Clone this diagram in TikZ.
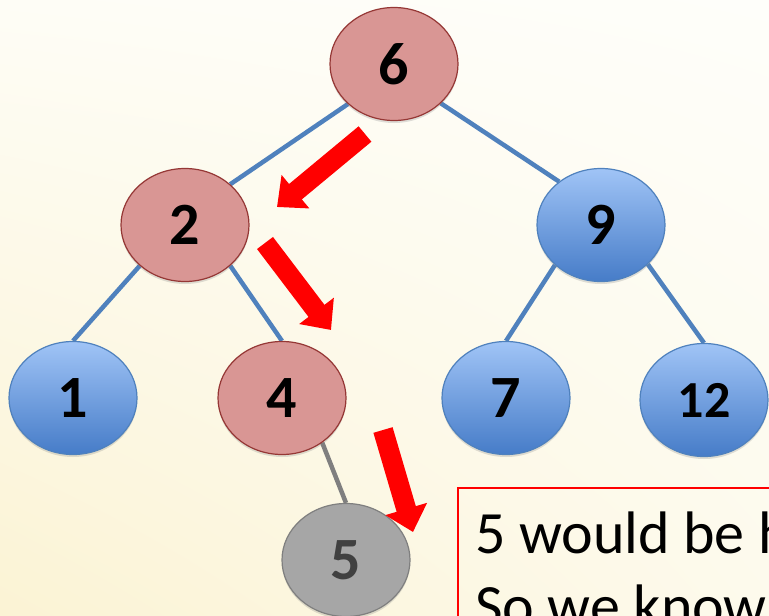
\documentclass[tikz,border=0pt]{standalone}
\usepackage{fontspec}
\setmainfont{Carlito}
\usetikzlibrary{shapes.geometric,arrows.meta,shadows,shadings}

\definecolor{pathred}{RGB}{217,150,148}
\definecolor{pathredline}{RGB}{149,55,53}
\definecolor{heapbluetop}{RGB}{160,196,246}
\definecolor{heapbluebot}{RGB}{70,124,200}
\definecolor{heapblueline}{RGB}{79,129,189}
\definecolor{newgray}{RGB}{166,166,166}
\definecolor{newgrayline}{RGB}{127,127,127}
\definecolor{paperul}{RGB}{254,253,246}
\definecolor{paperur}{RGB}{254,254,250}
\definecolor{paperll}{RGB}{251,243,212}
\definecolor{paperlr}{RGB}{253,250,236}

\pgfdeclarelayer{backdrop}
\pgfdeclarelayer{background}
\pgfsetlayers{backdrop,background,main}

\begin{document}
\begin{tikzpicture} [
                % one unit is one pixel of the slide, y grows downwards
                x=1pt, y=-1pt,
                vertex/.style={ellipse,minimum width=128pt,minimum height=113pt,inner sep=0pt,
                    line width=1.2pt,font=\fontsize{60}{60}\selectfont\bfseries,
                    drop shadow={opacity=0.25,shadow xshift=0pt,shadow yshift=-2.5pt}},
                heap vertex/.style = {vertex, top color=heapbluetop, bottom color=heapbluebot, draw=heapblueline},
                path vertex/.style = {vertex, fill=pathred, draw=pathredline},
                new vertex/.style = {vertex, fill=newgray, draw=newgrayline, text=black!75},
                edge/.style = {draw,line width=4.5pt,-,heapblueline},
                new edge/.style = {draw,line width=4.5pt,-,newgrayline},
                move arrow/.style = {draw,red,line width=20pt,-{Triangle[width=42pt,length=24pt]}},
                note box/.style = {draw=red,line width=1.5pt,anchor=north west,minimum width=400pt,minimum height=200pt},
                note text/.style = {anchor=base west,inner sep=0pt,font=\fontsize{60}{73}\selectfont}
            ]
            \useasboundingbox (0,0) rectangle (769,616);
            % the slide paper
            \begin{pgfonlayer}{backdrop}
                \shade[upper left=paperul,upper right=paperur,lower left=paperll,lower right=paperlr]
                    (0,0) rectangle (769,616);
            \end{pgfonlayer}
            % First we draw the vertices, the search path in red
            \foreach \pos/\name in {{(394,64)/6}, {(185,225)/2}, {(282,398)/4}}
                \node[path vertex] (n\name) at \pos {\name};
            \foreach \pos/\name in {{(601,225)/9}, {(73,398)/1}, {(506,398)/7}}
                \node[heap vertex] (n\name) at \pos {\name};
            \node[heap vertex,font=\fontsize{52}{52}\selectfont\bfseries] (n12) at (704,400) {12};
            % the value that would be inserted
            \node[new vertex] (n5) at (346,560) {5};
            % Connect vertices with edges, behind the vertices
            \begin{pgfonlayer}{background}
                \foreach \source / \dest in {n6.221/n2.42, n6.-40/n9.134, n2.222/n1.north,
                                             n2.-42/n4.north, n9.221/n7.north, n9.-40/n12.north}
                    \path[edge] (\source) -- (\dest);
                \path[new edge] (n4.-48) -- (n5.north);
            \end{pgfonlayer}
            % red arrows along the search
            \coordinate (from1) at (365,134);
            \coordinate (to1) at (277,207);
            \coordinate (from2) at (265,243);
            \coordinate (to2) at (331,330);
            \coordinate (from3) at (383,430);
            \coordinate (to3) at (413,532);
            \foreach \source / \dest in {from1/to1, from2/to2, from3/to3}
                \path[move arrow] (\source) -- (\dest);
            % the note in the lower right corner
            \node[note box] (note) at (457,487) {};
            \node[note text] (line1) at (475,553) {5 would be h};
            \node[note text] (line2) at (475,626) {So we know};
        \end{tikzpicture}
\end{document}
